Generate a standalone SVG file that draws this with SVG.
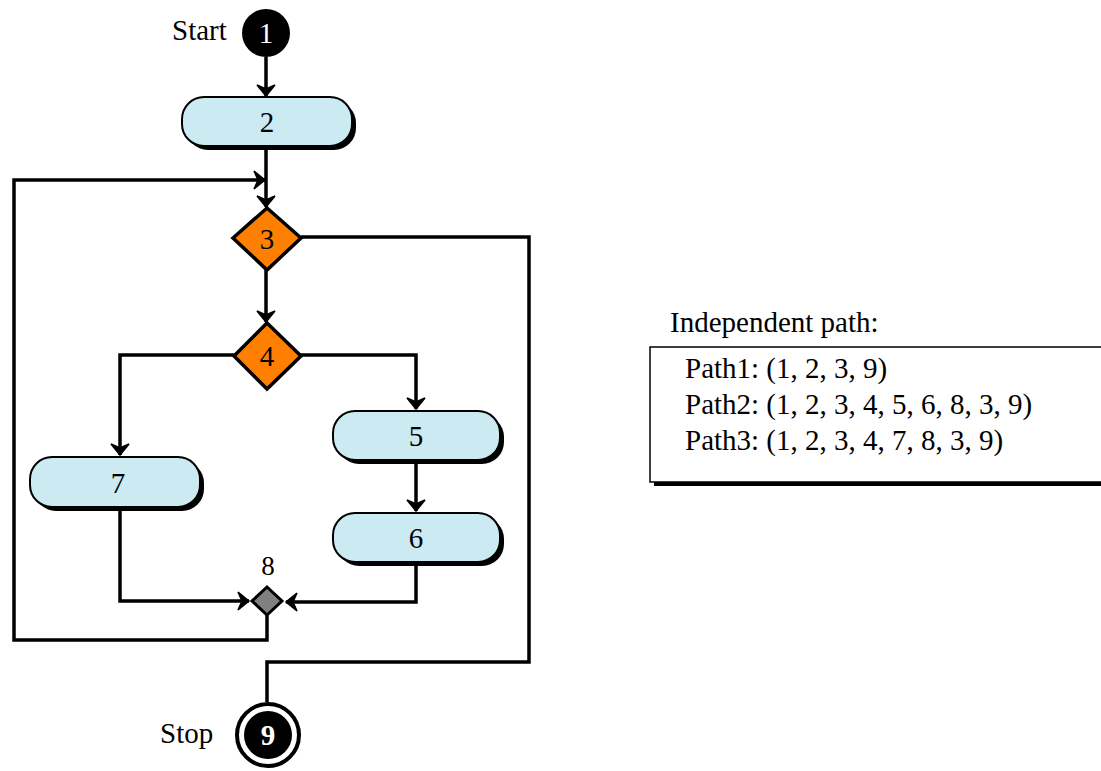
<svg xmlns="http://www.w3.org/2000/svg" width="1101" height="771" viewBox="0 0 1101 771">
<style>
.t{font-family:"Liberation Serif","Times New Roman",serif;fill:#000}
.n{font-size:29px;text-anchor:middle}
.w{fill:#fff}
.b{font-weight:bold}
.box{fill:#cceaf2;stroke:#000;stroke-width:2}
.sh{fill:#000}
.dia{fill:#ff8000;stroke:#000;stroke-width:3.5}
.c{fill:none;stroke:#000;stroke-width:3.5;stroke-linejoin:miter}
.p{font-size:29px}
</style>
<defs>
<marker id="a" markerUnits="userSpaceOnUse" markerWidth="24" markerHeight="24" refX="13" refY="12" orient="auto" viewBox="0 0 24 24">
<path d="M2,3 L13,12 L2,21 L6,12 Z" fill="#000" stroke="#000" stroke-width="1.5" stroke-linejoin="miter"/>
</marker>
</defs>
<rect width="1101" height="771" fill="#fff"/>
<g id="connectors">
<path class="c" d="M266,57 L266,96" marker-end="url(#a)"/>
<path class="c" d="M266,146 L266,207" marker-end="url(#a)"/>
<path class="c" d="M267,615 L267,640 L14,640 L14,180 L265,180" marker-end="url(#a)"/>
<path class="c" d="M266,270 L266,322" marker-end="url(#a)"/>
<path class="c" d="M234,355 L120,355 L120,455" marker-end="url(#a)"/>
<path class="c" d="M301,355 L416,355 L416,409" marker-end="url(#a)"/>
<path class="c" d="M416,462 L416,511" marker-end="url(#a)"/>
<path class="c" d="M120,510 L120,601 L249,601" marker-end="url(#a)"/>
<path class="c" d="M416,565 L416,602 L286,602" marker-end="url(#a)"/>
<path class="c" d="M301,237 L529,237 L529,662 L267,662 L267,702"/>
</g>
<g id="node1">
<text class="t" x="172" y="40" font-size="29">Start</text>
<circle cx="266" cy="33" r="24" fill="#000"/>
<text class="t n w" x="266" y="43">1</text>
</g>
<g id="node2">
<rect class="sh" x="186" y="101" width="170" height="49" rx="22"/>
<rect class="box" x="182" y="97" width="170" height="49" rx="22"/>
<text class="t n" x="267" y="132">2</text>
</g>
<g id="node3">
<polygon class="dia" points="267,208 301,238 267,270 233,238"/>
<text class="t n" x="267" y="249">3</text>
</g>
<g id="node4">
<polygon class="dia" points="267,323 301,356 267,389 234,356"/>
<text class="t n" x="267" y="366">4</text>
</g>
<g id="node5">
<rect class="sh" x="337" y="415" width="167" height="49" rx="22"/>
<rect class="box" x="333" y="411" width="167" height="49" rx="22"/>
<text class="t n" x="416" y="446">5</text>
</g>
<g id="node6">
<rect class="sh" x="337" y="517" width="167" height="49" rx="22"/>
<rect class="box" x="333" y="513" width="167" height="49" rx="22"/>
<text class="t n" x="416" y="548">6</text>
</g>
<g id="node7">
<rect class="sh" x="34" y="461" width="170" height="50" rx="22"/>
<rect class="box" x="30" y="457" width="170" height="50" rx="22"/>
<text class="t n" x="118" y="493">7</text>
</g>
<g id="node8">
<polygon points="267,587 282,601 267,615 252,601" fill="#808080" stroke="#000" stroke-width="3"/>
<text class="t" x="268" y="575" font-size="27" text-anchor="middle">8</text>
</g>
<g id="node9">
<text class="t" x="160" y="743" font-size="29">Stop</text>
<circle cx="268" cy="735" r="31" fill="#fff" stroke="#000" stroke-width="4"/>
<circle cx="268" cy="735" r="24" fill="#000"/>
<text class="t n w b" x="268" y="745">9</text>
</g>
<g id="table">
<text class="t p" x="670" y="332">Independent path:</text>
<rect x="654" y="351" width="460" height="135" fill="#000"/>
<rect x="650" y="347" width="460" height="135" fill="#fff" stroke="#000" stroke-width="1.5"/>
<text class="t p" x="685" y="378">Path1: (1, 2, 3, 9)</text>
<text class="t p" x="685" y="414">Path2: (1, 2, 3, 4, 5, 6, 8, 3, 9)</text>
<text class="t p" x="685" y="450">Path3: (1, 2, 3, 4, 7, 8, 3, 9)</text>
</g>
</svg>
